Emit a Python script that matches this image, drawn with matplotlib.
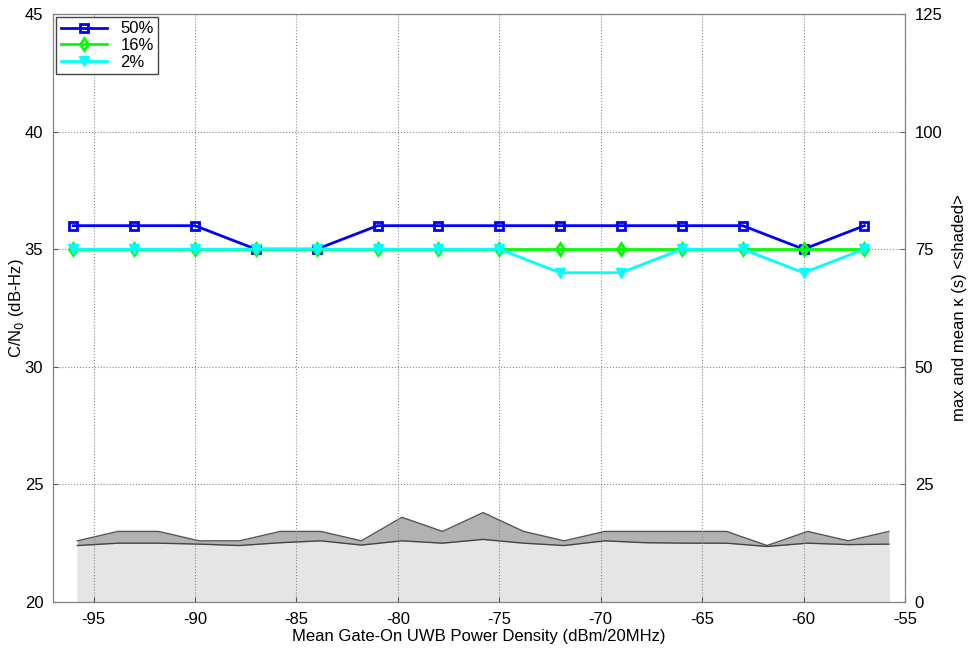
import matplotlib
matplotlib.use('Agg')
import matplotlib.pyplot as plt

plt.rcParams['font.family'] = ['Liberation Sans', 'DejaVu Sans']
plt.rcParams['axes.unicode_minus'] = False

# line data (C/N0, dB-Hz)
x_pts = [-96, -93, -90, -87, -84, -81, -78, -75, -72, -69, -66, -63, -60, -57]
cn0_50 = [36, 36, 36, 35, 35, 36, 36, 36, 36, 36, 36, 36, 35, 36]
cn0_16 = [35, 35, 35, 35, 35, 35, 35, 35, 35, 35, 35, 35, 35, 35]
cn0_2 = [35, 35, 35, 35, 35, 35, 35, 35, 34, 34, 35, 35, 34, 35]

# shaded data (kappa, s)
x_fill = [-95.8, -93.8, -91.8, -89.8, -87.8, -85.8, -83.8, -81.8, -79.8, -77.8, -75.8,
          -73.8, -71.8, -69.8, -67.8, -65.8, -63.8, -61.8, -59.8, -57.8, -55.8]
kappa_max = [13, 15, 15, 13, 13, 15, 15, 13, 18, 15, 19,
             15, 13, 15, 15, 15, 15, 12, 15, 13, 15]
kappa_mean = [12.0, 12.5, 12.5, 12.3, 12.0, 12.6, 13.0, 12.1, 13.0, 12.5, 13.3,
              12.5, 12.0, 13.0, 12.6, 12.5, 12.5, 11.8, 12.5, 12.2, 12.3]

fig = plt.figure(figsize=(9.69, 6.51), dpi=100)
ax1 = fig.add_axes([0.0547, 0.0753, 0.8793, 0.9032])
ax2 = ax1.twinx()

# shaded kappa on the right axis, kept behind the lines
ax2.fill_between(x_fill, 0, kappa_max, color='#b2b2b2', linewidth=0)
ax2.fill_between(x_fill, 0, kappa_mean, color='#e5e5e5', linewidth=0)
ax2.plot(x_fill, kappa_max, color='#555555', linewidth=1)
ax2.plot(x_fill, kappa_mean, color='#444444', linewidth=1)
ax2.set_ylim(0, 125)
ax2.set_yticks([0, 25, 50, 75, 100, 125])
ax2.set_ylabel('max and mean \u03ba (s) <shaded>', fontsize=12, labelpad=7)

ax1.set_zorder(ax2.get_zorder() + 1)
ax1.patch.set_visible(False)

ax1.plot(x_pts, cn0_50, color='#0000ff', linewidth=2, marker='s', markersize=6,
         markerfacecolor='none', markeredgecolor='#0000ff', markeredgewidth=2, label='50%')
ax1.plot(x_pts, cn0_16, color='#00ff00', linewidth=2, marker='d', markersize=6,
         markerfacecolor='none', markeredgecolor='#00ff00', markeredgewidth=2, label='16%')
ax1.plot(x_pts, cn0_2, color='#00ffff', linewidth=2, marker='v', markersize=7,
         markerfacecolor='#00ffff', markeredgecolor='#00ffff', label='2%')

ax1.set_xlim(-97, -55)
ax1.set_ylim(20, 45)
ax1.set_xticks(range(-95, -54, 5))
ax1.set_yticks(range(20, 46, 5))
ax1.grid(True, linestyle=':', color='#888888', linewidth=0.8)
ax1.set_xlabel('Mean Gate-On UWB Power Density (dBm/20MHz)', fontsize=12, labelpad=2)
ax1.set_ylabel('C/N$_0$ (dB-Hz)', fontsize=12, labelpad=-1)

for ax in (ax1, ax2):
    ax.tick_params(direction='in', labelsize=12, color='#555555', pad=7)
    for s in ax.spines.values():
        s.set_color('#808080')

leg = ax1.legend(loc='upper left', fontsize=12, fancybox=False, framealpha=1,
                 edgecolor='#444444', borderpad=0.25, labelspacing=0.1, handlelength=2.8,
                 borderaxespad=0.2)
leg.get_frame().set_linewidth(1)

fig.savefig('out.png', dpi=100)
